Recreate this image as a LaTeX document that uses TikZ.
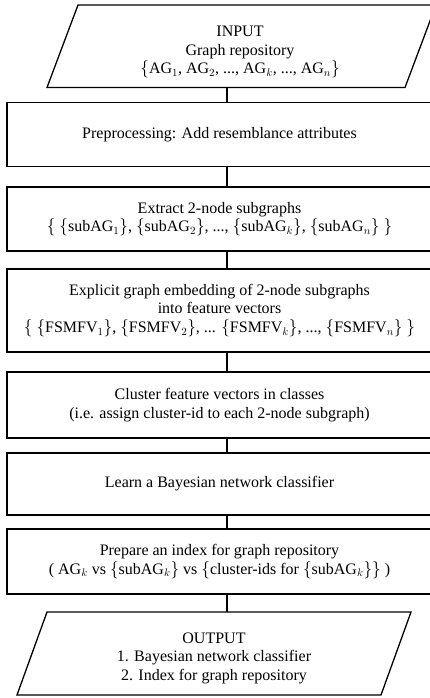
\documentclass[tikz,border=0pt]{standalone}
\usepackage{fontspec}
\setmainfont{Liberation Serif}
\begin{document}
\begin{tikzpicture}[x=1pt,y=-1pt,
  line/.style={line width=1.3pt, line join=miter},
  txt/.style={align=center, inner sep=0pt, outer sep=0pt, font=\fontsize{16}{18.5}\selectfont},
  rbox/.style={txt, draw, line width=1.3pt, minimum width=425pt},
  conn/.style={line width=1.3pt}]
\clip (0,0) rectangle (430,698);
\useasboundingbox (0,0) rectangle (430,698);
\coordinate (cx) at (227,0);
% input
\draw[line] (78,5) -- (436,5) -- (405,87.5) -- (47,87.5) -- cycle;
\node[txt] (in) at (240,52) {INPUT\\Graph repository\\$\{$AG$_1$, AG$_2$, ..., AG$_k$, ..., AG$_n\}$};
\coordinate (inb) at (227,87.5);
% boxes
\node[rbox, minimum height=63.5pt] (r1) at (219.5,134.5) {Preprocessing: Add resemblance attributes};
\node[rbox, minimum height=64pt] (r2) at (219.5,219) {Extract 2-node subgraphs\\$\{$ $\{$subAG$_1\}$, $\{$subAG$_2\}$, ..., $\{$subAG$_k\}$, $\{$subAG$_n\}$ $\}$};
\node[rbox, minimum height=83pt] (r3) at (219.5,310.5) {Explicit graph embedding of 2-node subgraphs\\into feature vectors\\$\{$ $\{$FSMFV$_1\}$, $\{$FSMFV$_2\}$, ... $\{$FSMFV$_k\}$, ..., $\{$FSMFV$_n\}$ $\}$};
\node[rbox, minimum height=66pt] (r4) at (219.5,405) {Cluster feature vectors in classes\\(i.e. assign cluster-id to each 2-node subgraph)};
\node[rbox, minimum height=62pt] (r5) at (219.5,484) {Learn a Bayesian network classifier};
\node[rbox, minimum height=65pt] (r6) at (219.5,561.5) {Prepare an index for graph repository\\( AG$_k$ vs $\{$subAG$_k\}$ vs $\{$cluster-ids for $\{$subAG$_k\}\}$ )};
% output
\draw[line] (47,612) -- (411,612) -- (381,695) -- (17,695) -- cycle;
\node[txt] (out) at (214,658) {OUTPUT\\1. Bayesian network classifier\\2. Index for graph repository};
\coordinate (outt) at (227,612);
% connectors
\draw[conn] (inb) -- (r1.north -| cx);
\draw[conn] (r1.south -| cx) -- (r2.north -| cx);
\draw[conn] (r2.south -| cx) -- (r3.north -| cx);
\draw[conn] (r3.south -| cx) -- (r4.north -| cx);
\draw[conn] (r4.south -| cx) -- (r5.north -| cx);
\draw[conn] (r5.south -| cx) -- (r6.north -| cx);
\draw[conn] (r6.south -| cx) -- (outt);
\end{tikzpicture}
\end{document}
